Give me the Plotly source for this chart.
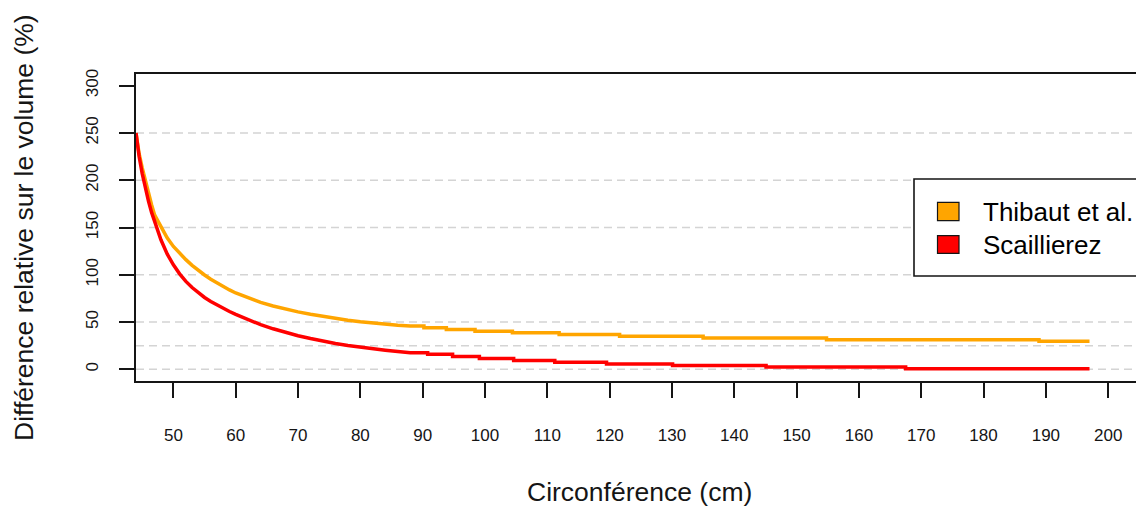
import plotly.graph_objects as go

# Relative volume difference (%) versus tree circumference (cm)
circ_thibaut = [44, 44.5, 45, 45.5, 46, 46.5, 47, 48, 49, 50, 51, 52, 53, 54, 55, 56, 57, 58, 59, 60,
                62, 64, 66, 68, 70, 72, 74, 76, 78, 80, 82, 84, 86, 88,
                90.2, 90.2, 93.8, 93.8, 98.4, 98.4, 104.4, 104.4, 111.9, 111.9, 121.6, 121.6,
                135.0, 135.0, 154.8, 154.8, 188.9, 188.9, 197]
diff_thibaut = [250, 228, 213, 199, 186, 174, 163, 150, 139, 130, 122.5, 116, 110, 104.5, 99.8, 95.3, 91.2, 87.4, 84, 80.8,
                75.3, 70.8, 67, 63.7, 60.8, 58.2, 55.9, 53.8, 52.0, 50.4, 49.0, 47.8, 46.7, 45.8,
                45.8, 44.0, 44.0, 42.2, 42.2, 40.4, 40.4, 38.6, 38.6, 36.8, 36.8, 35.0,
                35.0, 33.2, 33.2, 31.4, 31.4, 29.6, 29.6]

circ_scaillierez = [44, 44.25, 44.5, 45, 45.5, 46, 46.5, 47, 48, 49, 50, 51, 52, 53, 54, 55, 56, 57, 58, 59, 60,
                    62, 64, 66, 68, 70, 72, 74, 76, 78, 80, 82, 84, 86, 88,
                    90.8, 90.8, 94.8, 94.8, 99.1, 99.1, 104.6, 104.6, 111.2, 111.2, 119.5, 119.5,
                    130.1, 130.1, 145.1, 145.1, 167.5, 167.5, 197]
diff_scaillierez = [250, 236, 225, 207, 191.5, 178, 166, 155.5, 137, 122, 110.5, 101, 93, 86.5, 81, 76, 71.8, 68, 64.5, 61.2, 58.2,
                    52.4, 47.2, 42.9, 39.1, 35.6, 32.6, 29.8, 27.4, 25.3, 23.4, 21.7, 20.2, 18.8, 17.6,
                    17.6, 16.1, 16.1, 13.6, 13.6, 11.4, 11.4, 9.4, 9.4, 7.5, 7.5, 5.8,
                    5.8, 4.1, 4.1, 2.4, 2.4, 0.6, 0.6]

series_names = ["Thibaut et al.", "Scaillierez"]
series_colors = ["#FFA500", "#FF0000"]

x_ticks = list(range(50, 201, 10))
y_ticks = [0, 50, 100, 150, 200, 250, 300]
grid_levels = [0, 25, 50, 100, 150, 200, 250]

W, H = 1136, 508
L, T, B = 136, 74, 127
PW, PH = W - L, H - T - B
FONT = "Liberation Sans, Arial, sans-serif"
INK = "#151515"


def fx(px):
    return (px - L) / PW


def fy(py):
    return (H - B - py) / PH


fig = go.Figure()
fig.add_trace(go.Scatter(x=circ_thibaut, y=diff_thibaut, mode="lines",
                         line=dict(color=series_colors[0], width=3.5), showlegend=False))
fig.add_trace(go.Scatter(x=circ_scaillierez, y=diff_scaillierez, mode="lines",
                         line=dict(color=series_colors[1], width=3.5), showlegend=False))

shapes = []
for lv in grid_levels:
    shapes.append(dict(type="line", xref="paper", yref="y", x0=0, x1=1, y0=lv, y1=lv,
                       line=dict(color="#d4d4d4", width=1.5, dash="8px,5px"), layer="below"))

# legend box with filled keys
shapes.append(dict(type="rect", xref="paper", yref="paper", x0=fx(914), x1=fx(1150),
                   y0=fy(276), y1=fy(179), line=dict(color=INK, width=1.6), fillcolor="white"))
key_rows = [(202.3, 220.7), (235.7, 253.3)]
for (top, bot), col in zip(key_rows, series_colors):
    shapes.append(dict(type="rect", xref="paper", yref="paper", x0=fx(937.5), x1=fx(959),
                       y0=fy(bot), y1=fy(top), line=dict(color=INK, width=1.2), fillcolor=col))

annotations = []
for name, cy in zip(series_names, [211.5, 244.5]):
    annotations.append(dict(text=name, xref="paper", yref="paper", x=fx(981), y=fy(cy),
                            xanchor="left", yanchor="middle", showarrow=False,
                            font=dict(family=FONT, size=26, color="black")))

annotations.append(dict(text="Circonférence (cm)", xref="paper", yref="paper",
                        x=fx(639.5), y=fy(492), xanchor="center", yanchor="middle",
                        showarrow=False, font=dict(family=FONT, size=26.5, color=INK)))
annotations.append(dict(text="Différence relative sur le volume (%)", xref="paper", yref="paper",
                        x=fx(24), y=fy(228), xanchor="center", yanchor="middle", textangle=-90,
                        showarrow=False, font=dict(family=FONT, size=26.5, color=INK)))

fig.update_layout(
    width=W, height=H,
    margin=dict(l=L, r=0, t=T, b=B, pad=0),
    paper_bgcolor="white", plot_bgcolor="white",
    shapes=shapes, annotations=annotations,
    showlegend=False,
    xaxis=dict(range=[44, 44 + PW / 6.232], tickvals=x_ticks, ticktext=[str(v) for v in x_ticks],
               showgrid=False, zeroline=False, showline=True, mirror=True,
               linecolor=INK, linewidth=1.8, ticks="outside", ticklen=15, tickwidth=1.5,
               tickcolor=INK, ticklabelstandoff=23,
               tickfont=dict(family=FONT, size=17, color=INK)),
    yaxis=dict(range=[-12.3, 312.3], tickvals=y_ticks, ticktext=[str(v) for v in y_ticks],
               tickangle=-90, showgrid=False, zeroline=False, showline=True,
               linecolor=INK, linewidth=1.8, ticks="outside", ticklen=15, tickwidth=1.5,
               tickcolor=INK, ticklabelstandoff=14,
               tickfont=dict(family=FONT, size=17, color=INK)),
)

fig.write_html("out.html")
